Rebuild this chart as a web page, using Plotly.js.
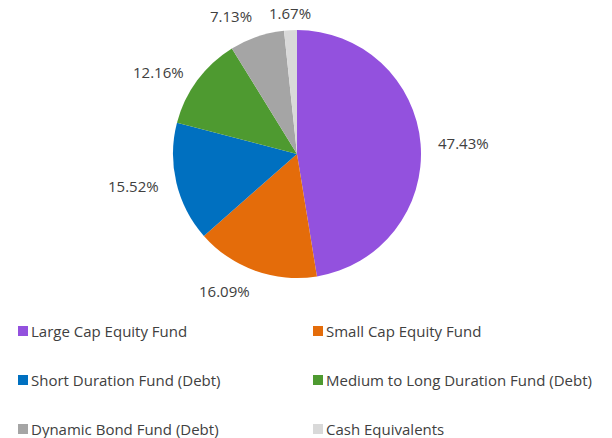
<!DOCTYPE html>
<html>
<head>
<meta charset="utf-8">
<script src="https://cdn.plot.ly/plotly-3.0.1.min.js"></script>
<style>html,body{margin:0;padding:0;background:#fff;}#chart{width:612px;height:438px;}</style>
</head>
<body>
<div id="chart"></div>
<script>
const categories = ["Large Cap Equity Fund", "Small Cap Equity Fund", "Short Duration Fund (Debt)", "Medium to Long Duration Fund (Debt)", "Dynamic Bond Fund (Debt)", "Cash Equivalents"];
const allocation = [47.43, 16.09, 15.52, 12.16, 7.13, 1.67];
const sliceColors = ["#9351DE", "#E46C0A", "#0070C0", "#4E9A30", "#A5A5A5", "#D9D9D9"];

const W = 612, H = 438;
const FONT = "Open Sans, sans-serif";
const TXT = "#404040";
const CX = 297, CY = 154, R = 124;

const pie = {
  type: "pie",
  labels: categories,
  values: allocation,
  textinfo: "none",
  sort: false,
  direction: "clockwise",
  rotation: 0,
  marker: {colors: sliceColors, line: {width: 0}},
  hoverinfo: "label+percent",
  domain: {x: [(CX - R) / W, (CX + R) / W], y: [1 - (CY + R) / H, 1 - (CY - R) / H]},
  showlegend: false
};

const shapes = [], annotations = [];

// data labels placed outside each slice at its mid-angle (derived from the values)
const total = allocation.reduce((a, b) => a + b, 0);
let cum = 0;
const gapX = 15, gapY = 4;
allocation.forEach((v, i) => {
  const mid = (cum + v / 2) / total * 2 * Math.PI;
  cum += v;
  const dx = Math.sin(mid), dy = -Math.cos(mid);
  const d = R + gapX * Math.abs(dx) + gapY * Math.abs(dy);
  const px = CX + d * dx, py = CY + d * dy;
  annotations.push({
    xref: "paper", yref: "paper", x: px / W, y: 1 - py / H,
    xanchor: dx > 0.3 ? "left" : (dx < -0.3 ? "right" : "center"),
    yanchor: dy > 0.7 ? "top" : (dy < -0.7 ? "bottom" : "middle"),
    showarrow: false, text: v.toFixed(2) + "%",
    font: {family: FONT, size: 15, color: TXT}
  });
});

// legend built from categories/colors, two columns
const colX = [18, 313], rowY = [331, 380, 429], sq = 10;
categories.forEach((c, i) => {
  const x = colX[i % 2], y = rowY[Math.floor(i / 2)];
  shapes.push({type: "rect", xref: "paper", yref: "paper",
    x0: x / W, x1: (x + sq) / W, y0: 1 - (y + sq / 2) / H, y1: 1 - (y - sq / 2) / H,
    fillcolor: sliceColors[i], line: {width: 0}});
  annotations.push({xref: "paper", yref: "paper", x: (x + sq + 1) / W, y: 1 - y / H,
    xanchor: "left", yanchor: "middle", showarrow: false, text: c,
    font: {family: FONT, size: 15, color: TXT}});
});

Plotly.newPlot("chart", [pie], {
  width: W, height: H,
  margin: {l: 0, r: 0, t: 0, b: 0},
  paper_bgcolor: "#fff",
  shapes: shapes,
  annotations: annotations
}, {displayModeBar: false, staticPlot: true});
</script>
</body>
</html>
